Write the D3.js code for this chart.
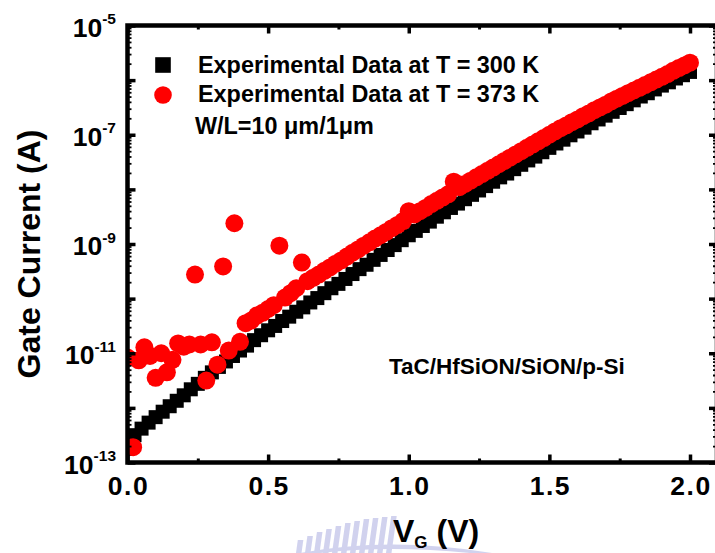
<!DOCTYPE html>
<html><head><meta charset="utf-8">
<script src="https://cdn.jsdelivr.net/npm/d3@7/dist/d3.min.js"></script>
<style>
html,body{margin:0;padding:0;background:#fff;}
svg{display:block;font-family:"Liberation Sans",Arial,sans-serif;font-weight:bold;}
</style></head>
<body><svg id="c" width="715" height="553"></svg>
<script>
// ---- data ----
const voltage300 = [0.000,0.025,0.050,0.075,0.100,0.125,0.150,0.175,0.200,0.225,0.250,0.275,0.300,0.325,0.350,0.375,0.400,0.425,0.450,0.475,0.500,0.525,0.550,0.575,0.600,0.625,0.650,0.675,0.700,0.725,0.750,0.775,0.800,0.825,0.850,0.875,0.900,0.925,0.950,0.975,1.000,1.025,1.050,1.075,1.100,1.125,1.150,1.175,1.200,1.225,1.250,1.275,1.300,1.325,1.350,1.375,1.400,1.425,1.450,1.475,1.500,1.525,1.550,1.575,1.600,1.625,1.650,1.675,1.700,1.725,1.750,1.775,1.800,1.825,1.850,1.875,1.900,1.925,1.950,1.975,2.000];
const logCurrent300 = [-12.75,-12.50,-12.38,-12.27,-12.17,-12.07,-11.97,-11.87,-11.77,-11.66,-11.56,-11.45,-11.35,-11.25,-11.15,-11.05,-10.95,-10.86,-10.76,-10.67,-10.58,-10.50,-10.41,-10.33,-10.24,-10.16,-10.07,-9.99,-9.90,-9.81,-9.73,-9.64,-9.55,-9.46,-9.38,-9.29,-9.20,-9.11,-9.02,-8.93,-8.84,-8.76,-8.67,-8.59,-8.50,-8.42,-8.34,-8.26,-8.18,-8.10,-8.02,-7.94,-7.86,-7.78,-7.71,-7.63,-7.55,-7.47,-7.40,-7.32,-7.24,-7.16,-7.09,-7.01,-6.94,-6.87,-6.79,-6.72,-6.65,-6.58,-6.51,-6.44,-6.37,-6.30,-6.24,-6.17,-6.10,-6.04,-5.97,-5.91,-5.85];
const voltage373 = [0.00,0.02,0.04,0.06,0.08,0.10,0.12,0.14,0.16,0.18,0.20,0.22,0.24,0.26,0.28,0.30,0.32,0.34,0.36,0.38,0.40,0.42,0.44,0.46,0.48,0.50,0.52,0.54,0.56,0.58,0.60,0.62,0.64,0.66,0.68,0.70,0.72,0.74,0.76,0.78,0.80,0.82,0.84,0.86,0.88,0.90,0.92,0.94,0.96,0.98,1.00,1.02,1.04,1.06,1.08,1.10,1.12,1.14,1.16,1.18,1.20,1.22,1.24,1.26,1.28,1.30,1.32,1.34,1.36,1.38,1.40,1.42,1.44,1.46,1.48,1.50,1.52,1.54,1.56,1.58,1.60,1.62,1.64,1.66,1.68,1.70,1.72,1.74,1.76,1.78,1.80,1.82,1.84,1.86,1.88,1.90,1.92,1.94,1.96,1.98,2.00];
const logCurrent373 = [-11.08,-12.72,-11.13,-10.89,-11.05,-11.45,-11.00,-11.35,-11.12,-10.82,-10.88,-10.84,-9.56,-10.84,-11.50,-10.80,-11.21,-9.41,-10.95,-8.62,-10.79,-10.45,-10.40,-10.31,-10.26,-10.19,-10.12,-9.03,-9.98,-9.90,-9.81,-9.34,-9.68,-9.62,-9.56,-9.49,-9.43,-9.36,-9.30,-9.23,-9.16,-9.10,-9.03,-8.97,-8.90,-8.84,-8.78,-8.71,-8.65,-8.58,-8.40,-8.46,-8.40,-8.34,-8.27,-8.21,-8.15,-8.09,-7.86,-7.96,-7.90,-7.84,-7.78,-7.72,-7.66,-7.60,-7.54,-7.48,-7.42,-7.36,-7.30,-7.24,-7.18,-7.12,-7.06,-7.00,-6.94,-6.88,-6.83,-6.77,-6.72,-6.66,-6.61,-6.55,-6.50,-6.45,-6.39,-6.34,-6.29,-6.24,-6.19,-6.14,-6.09,-6.04,-5.99,-5.94,-5.89,-5.83,-5.78,-5.73,-5.68];
const xMajorTicks = [0.0,0.5,1.0,1.5,2.0];
const xMinorTicks = [0.25,0.75,1.25,1.75];
const yDecades = [-13,-12,-11,-10,-9,-8,-7,-6,-5];
const yLabelExps = [-13,-11,-9,-7,-5];
const legendLabels = ["Experimental Data at T = 300 K","Experimental Data at T = 373 K"];
const sizeNote = "W/L=10 \u03bcm/1\u03bcm";
const stackNote = "TaC/HfSiON/SiON/p-Si";

// ---- chart ----
const svg = d3.select("#c");
const L=127.5, R=717, T=25.5, B=462.5;
const x = d3.scaleLinear().domain([0,(R-L)/281.25]).range([L,R]);
const y = d3.scaleLog().domain([1e-13,1e-5]).range([B,T]);

// faint watermark at the bottom (institution logo)
const wm = svg.append("g").attr("fill","#c9cbec").attr("opacity",0.85);
const stripeX = [296,305,314,323,332,341,350,359,368,377,386];
const stripeTop = [540,536,532,529,526,523,521,519,518,517,516];
stripeX.forEach((sx,i)=>{
  wm.append("rect").attr("x",sx).attr("y",stripeTop[i]).attr("width",5.5)
    .attr("height",553-stripeTop[i]).attr("transform",`skewX(-8)`).attr("transform-origin",`${sx} 553`);
});
wm.append("path").attr("d","M300,553 Q390,536 492,553 L470,553 Q390,545 320,553 Z");

const clip = svg.append("clipPath").attr("id","pa").append("rect")
  .attr("x",L).attr("y",T).attr("width",R-L).attr("height",B-T);

const pts300 = voltage300.map((v,i)=>({v, i: Math.pow(10, logCurrent300[i])}));
const pts373 = voltage373.map((v,i)=>({v, i: Math.pow(10, logCurrent373[i])}));

const g = svg.append("g").attr("clip-path","url(#pa)");
const sq = 14;
g.selectAll("rect.s").data(pts300).enter().append("rect")
  .attr("x",d=>x(d.v)-sq/2).attr("y",d=>y(d.i)-sq/2)
  .attr("width",sq).attr("height",sq).attr("fill","#000");
g.selectAll("circle.r").data(pts373).enter().append("circle")
  .attr("cx",d=>x(d.v)).attr("cy",d=>y(d.i)).attr("r",9).attr("fill","#ff0000");

// axes
function styleAxis(sel, w){
  sel.select(".domain").remove();
  sel.selectAll(".tick line").attr("stroke","#000").attr("stroke-width",w);
}
const minorY = [];
yDecades.forEach(e=>{ if(e<-5){ for(let k=2;k<=9;k++) minorY.push(k*Math.pow(10,e)); } });
const majorY = yDecades.map(e=>Math.pow(10,e));

svg.append("g").attr("transform",`translate(0,${B})`)
  .call(d3.axisBottom(x).tickValues(xMajorTicks).tickSize(-8).tickFormat(""))
  .call(s=>styleAxis(s,3.5));
svg.append("g").attr("transform",`translate(0,${B})`)
  .call(d3.axisBottom(x).tickValues(xMinorTicks).tickSize(-4).tickFormat(""))
  .call(s=>styleAxis(s,3));
svg.append("g").attr("transform",`translate(0,${T})`)
  .call(d3.axisTop(x).tickValues(xMajorTicks).tickSize(-8).tickFormat(""))
  .call(s=>styleAxis(s,3.5));
svg.append("g").attr("transform",`translate(0,${T})`)
  .call(d3.axisTop(x).tickValues(xMinorTicks).tickSize(-4).tickFormat(""))
  .call(s=>styleAxis(s,3));
svg.append("g").attr("transform",`translate(${L},0)`)
  .call(d3.axisLeft(y).tickValues(majorY).tickSize(-8).tickFormat(""))
  .call(s=>styleAxis(s,3.5));
svg.append("g").attr("transform",`translate(${L},0)`)
  .call(d3.axisLeft(y).tickValues(minorY).tickSize(-4).tickFormat(""))
  .call(s=>styleAxis(s,1.8));
svg.append("g").attr("transform",`translate(${R},0)`)
  .call(d3.axisRight(y).tickValues(majorY).tickSize(-8).tickFormat(""))
  .call(s=>styleAxis(s,3.5));
svg.append("g").attr("transform",`translate(${R},0)`)
  .call(d3.axisRight(y).tickValues(minorY).tickSize(-4).tickFormat(""))
  .call(s=>styleAxis(s,1.8));

svg.append("rect").attr("x",L).attr("y",T).attr("width",R-L).attr("height",B-T)
  .attr("fill","none").attr("stroke","#000").attr("stroke-width",4.5);

// tick labels
svg.append("g").selectAll("text").data(xMajorTicks).enter().append("text")
  .attr("x",d=>x(d)+1).attr("y",495).attr("text-anchor","middle")
  .attr("font-size",26.5).attr("letter-spacing",1.5)
  .text(d=>d3.format(".1f")(d));
const yl = svg.append("g").selectAll("text").data(yLabelExps).enter().append("text")
  .attr("x",116).attr("y",d=>y(Math.pow(10,d))+11).attr("text-anchor","end");
yl.append("tspan").attr("font-size",26.5).text("10");
yl.append("tspan").attr("font-size",15.5).attr("dy",-12.5).text(d=>String(d));

// axis titles
svg.append("text").attr("transform","translate(40,254) rotate(-90)")
  .attr("text-anchor","middle").attr("font-size",32).text("Gate Current (A)");
const xt = svg.append("text").attr("x",393).attr("y",542).attr("font-size",32);
xt.append("tspan").text("V");
xt.append("tspan").attr("font-size",17).attr("dy",6).text("G");
xt.append("tspan").attr("dy",-6).text(" (V)");

// legend
svg.append("rect").attr("x",155.2).attr("y",57.2).attr("width",15.6).attr("height",15.6).attr("fill","#000");
svg.append("circle").attr("cx",163).attr("cy",95).attr("r",8.8).attr("fill","#ff0000");
svg.append("g").selectAll("text").data(legendLabels).enter().append("text")
  .attr("x",198).attr("y",(d,i)=>73.3+i*28.4).attr("font-size",23.4).text(d=>d);
svg.append("text").attr("x",195).attr("y",133.5).attr("font-size",23.4).text(sizeNote);
svg.append("text").attr("x",389).attr("y",374).attr("font-size",22.5).text(stackNote);
</script></body></html>
